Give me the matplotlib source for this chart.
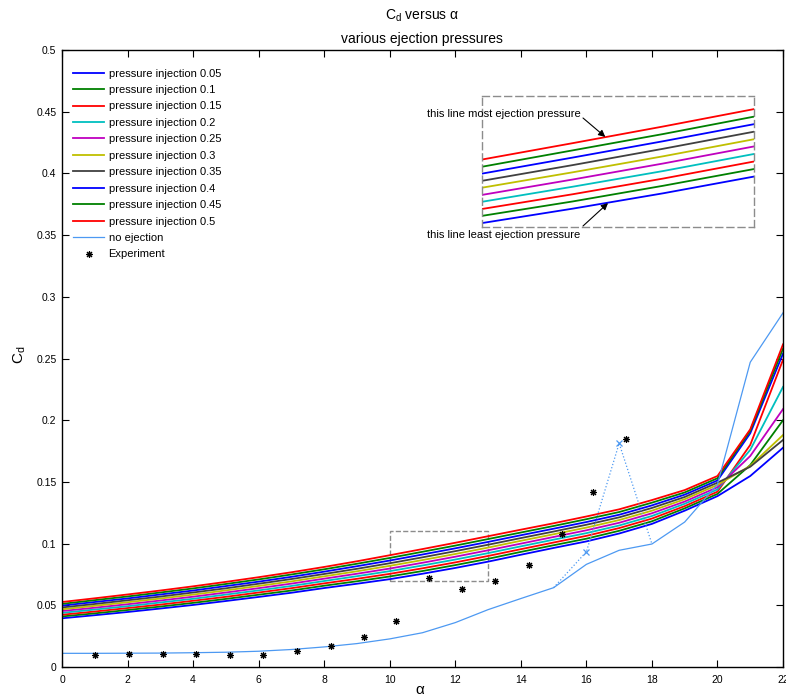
import matplotlib
matplotlib.use("Agg")
import matplotlib.pyplot as plt
from matplotlib.patches import Rectangle

plt.rcParams['font.family'] = ['Liberation Sans', 'DejaVu Sans']

# angle of attack (deg)
alpha = list(range(23))

# drag coefficient for each ejection pressure
cd_p05 = [0.0395, 0.0420, 0.0446, 0.0474, 0.0503, 0.0535, 0.0568, 0.0602, 0.0640, 0.0675, 0.0712, 0.0756,
          0.0803, 0.0854, 0.0910, 0.0965, 0.1018, 0.1082, 0.1160, 0.1267, 0.1385, 0.1548, 0.1777]
cd_p10 = [0.0410, 0.0435, 0.0462, 0.0490, 0.0520, 0.0552, 0.0586, 0.0620, 0.0659, 0.0695, 0.0734, 0.0778,
          0.0826, 0.0877, 0.0933, 0.0987, 0.1040, 0.1104, 0.1181, 0.1286, 0.1403, 0.1637, 0.2000]
cd_p15 = [0.0424, 0.0450, 0.0478, 0.0506, 0.0537, 0.0569, 0.0604, 0.0639, 0.0678, 0.0715, 0.0755, 0.0800,
          0.0848, 0.0900, 0.0955, 0.1009, 0.1063, 0.1126, 0.1203, 0.1304, 0.1421, 0.1800, 0.2490]
cd_p20 = [0.0439, 0.0466, 0.0493, 0.0523, 0.0553, 0.0587, 0.0621, 0.0657, 0.0697, 0.0736, 0.0777, 0.0823,
          0.0871, 0.0923, 0.0978, 0.1032, 0.1085, 0.1147, 0.1224, 0.1323, 0.1439, 0.1760, 0.2270]
cd_p25 = [0.0454, 0.0481, 0.0509, 0.0539, 0.0570, 0.0604, 0.0639, 0.0676, 0.0716, 0.0756, 0.0798, 0.0845,
          0.0894, 0.0946, 0.1000, 0.1054, 0.1108, 0.1169, 0.1246, 0.1341, 0.1457, 0.1710, 0.2090]
cd_p30 = [0.0468, 0.0496, 0.0525, 0.0555, 0.0587, 0.0621, 0.0657, 0.0694, 0.0735, 0.0776, 0.0820, 0.0867,
          0.0916, 0.0968, 0.1023, 0.1076, 0.1130, 0.1191, 0.1267, 0.1360, 0.1476, 0.1630, 0.1880]
cd_p35 = [0.0483, 0.0511, 0.0541, 0.0571, 0.0604, 0.0638, 0.0675, 0.0713, 0.0754, 0.0796, 0.0841, 0.0889,
          0.0939, 0.0991, 0.1045, 0.1098, 0.1153, 0.1213, 0.1289, 0.1378, 0.1494, 0.1623, 0.1840]
cd_p40 = [0.0498, 0.0527, 0.0556, 0.0588, 0.0620, 0.0656, 0.0692, 0.0731, 0.0773, 0.0817, 0.0863, 0.0912,
          0.0962, 0.1014, 0.1068, 0.1121, 0.1175, 0.1234, 0.1310, 0.1397, 0.1512, 0.1894, 0.2540]
cd_p45 = [0.0512, 0.0542, 0.0572, 0.0604, 0.0637, 0.0673, 0.0710, 0.0750, 0.0792, 0.0837, 0.0884, 0.0934,
          0.0984, 0.1037, 0.1090, 0.1143, 0.1198, 0.1256, 0.1332, 0.1415, 0.1530, 0.1915, 0.2580]
cd_p50 = [0.0527, 0.0557, 0.0588, 0.0620, 0.0654, 0.0690, 0.0728, 0.0768, 0.0811, 0.0857, 0.0906, 0.0956,
          0.1007, 0.1060, 0.1113, 0.1165, 0.1220, 0.1278, 0.1353, 0.1434, 0.1548, 0.1926, 0.2615]

# no ejection case
cd_none = [0.0111, 0.0111, 0.0112, 0.0113, 0.0116, 0.0120, 0.0128, 0.0142, 0.0163, 0.0190, 0.0228, 0.0278,
           0.0360, 0.0465, 0.0555, 0.0643, 0.0832, 0.0946, 0.0997, 0.1175, 0.1480, 0.2470, 0.2870]

# alternative no-ejection branch around stall
alt_alpha = [15, 16, 17, 18]
alt_cd = [0.0643, 0.0934, 0.1813, 0.0997]
alt_mark_alpha = [16, 17]
alt_mark_cd = [0.0934, 0.1813]

# wind tunnel measurements
exp_alpha = [1.0, 2.05, 3.08, 4.1, 5.12, 6.14, 7.16, 8.2, 9.2, 10.2, 11.2, 12.2, 13.2, 14.25, 15.25, 16.2, 17.2]
exp_cd = [0.0097, 0.0103, 0.0103, 0.0103, 0.0097, 0.0095, 0.0130, 0.0170, 0.0246, 0.0375, 0.0724, 0.0632,
          0.0700, 0.0827, 0.1078, 0.1418, 0.1845]

series = [cd_p05, cd_p10, cd_p15, cd_p20, cd_p25, cd_p30, cd_p35, cd_p40, cd_p45, cd_p50]
labels = ['pressure injection 0.05', 'pressure injection 0.1', 'pressure injection 0.15',
          'pressure injection 0.2', 'pressure injection 0.25', 'pressure injection 0.3',
          'pressure injection 0.35', 'pressure injection 0.4', 'pressure injection 0.45',
          'pressure injection 0.5']
colors = [(0, 0, 1), (0, 0.5, 0), (1, 0, 0), (0, 0.75, 0.75), (0.75, 0, 0.75),
          (0.75, 0.75, 0), (0.25, 0.25, 0.25), (0, 0, 1), (0, 0.5, 0), (1, 0, 0)]
light_blue = (0.3, 0.6, 0.95)

xticks = list(range(0, 23, 2))
yticks = [0, 0.05, 0.1, 0.15, 0.2, 0.25, 0.3, 0.35, 0.4, 0.45, 0.5]
ytick_labels = ['0', '0.05', '0.1', '0.15', '0.2', '0.25', '0.3', '0.35', '0.4', '0.45', '0.5']

asterisk = (8, 2, 0)

fig = plt.figure(figsize=(7.86, 6.97), dpi=100)
ax = fig.add_axes([0.0789, 0.0430, 0.9173, 0.8852])

for ys, lab, col in zip(series, labels, colors):
    ax.plot(alpha, ys, color=col, lw=1.3, label=lab)
ax.plot(alpha, cd_none, color=light_blue, lw=0.9, label='no ejection')
ax.plot(alt_alpha, alt_cd, color=light_blue, lw=0.9, ls=':')
ax.plot(alt_mark_alpha, alt_mark_cd, ls='none', marker='x', color=light_blue, ms=4, mew=0.9)
ax.plot(exp_alpha, exp_cd, ls='none', marker=asterisk, color='k', ms=5, mew=0.8, label='Experiment')

ax.add_patch(Rectangle((10, 0.07), 3, 0.04, fill=False, ls='--', ec='0.55', lw=1.0))

ax.set_xlim(0, 22)
ax.set_ylim(0, 0.5)
ax.set_xticks(xticks)
ax.set_yticks(yticks)
ax.set_yticklabels(ytick_labels)
ax.tick_params(direction='in', length=5, width=0.8, top=True, right=True, labelsize=7.5)
ax.tick_params(axis='x', pad=6)
ax.tick_params(axis='y', pad=4)
for s in ax.spines.values():
    s.set_linewidth(1.0)

leg = ax.legend(loc='upper left', bbox_to_anchor=(0.0153, 0.970), frameon=False, fontsize=8,
                handlelength=2.8, handletextpad=0.4, labelspacing=0.58, borderpad=0, borderaxespad=0)

fig.text(0.537, 1 - 16 / 697, r'$\mathregular{C_d}$ versus α', ha='center', va='center', fontsize=10)
fig.text(0.537, 1 - 39 / 697, 'various ejection pressures', ha='center', va='center', fontsize=10)
fig.text(0.534, 1 - 690 / 697, 'α', ha='center', va='center', fontsize=11)
fig.text(20 / 786, 1 - 355 / 697, r'$\mathregular{C_d}$', ha='center', va='center', rotation=90, fontsize=11)

# zoomed view of the band of ejection curves
axin = fig.add_axes([482 / 786, 1 - 227 / 697, 272 / 786, 131 / 697])
axin.set_facecolor('white')
for ys, col in zip(series, colors):
    axin.plot(alpha, ys, color=col, lw=1.3)
axin.set_xlim(10, 13)
axin.set_ylim(0.07, 0.11)
axin.set_xticks([])
axin.set_yticks([])
for s in axin.spines.values():
    s.set_linestyle((0, (5, 3)))
    s.set_edgecolor('0.55')
    s.set_linewidth(1.0)

fig.text(504, 583, 'this line most ejection pressure', transform=None, ha='center', va='center', fontsize=8)
fig.text(504, 462, 'this line least ejection pressure', transform=None, ha='center', va='center', fontsize=8)
arrow = dict(arrowstyle='-|>', color='k', lw=0.8, mutation_scale=10, shrinkA=0, shrinkB=0)
axin.annotate('', xy=(11.36, 0.0975), xycoords='data', xytext=(583, 579), textcoords='figure pixels',
              arrowprops=arrow)
axin.annotate('', xy=(11.39, 0.0773), xycoords='data', xytext=(583, 471), textcoords='figure pixels',
              arrowprops=arrow)

fig.savefig('out.png', dpi=100)
